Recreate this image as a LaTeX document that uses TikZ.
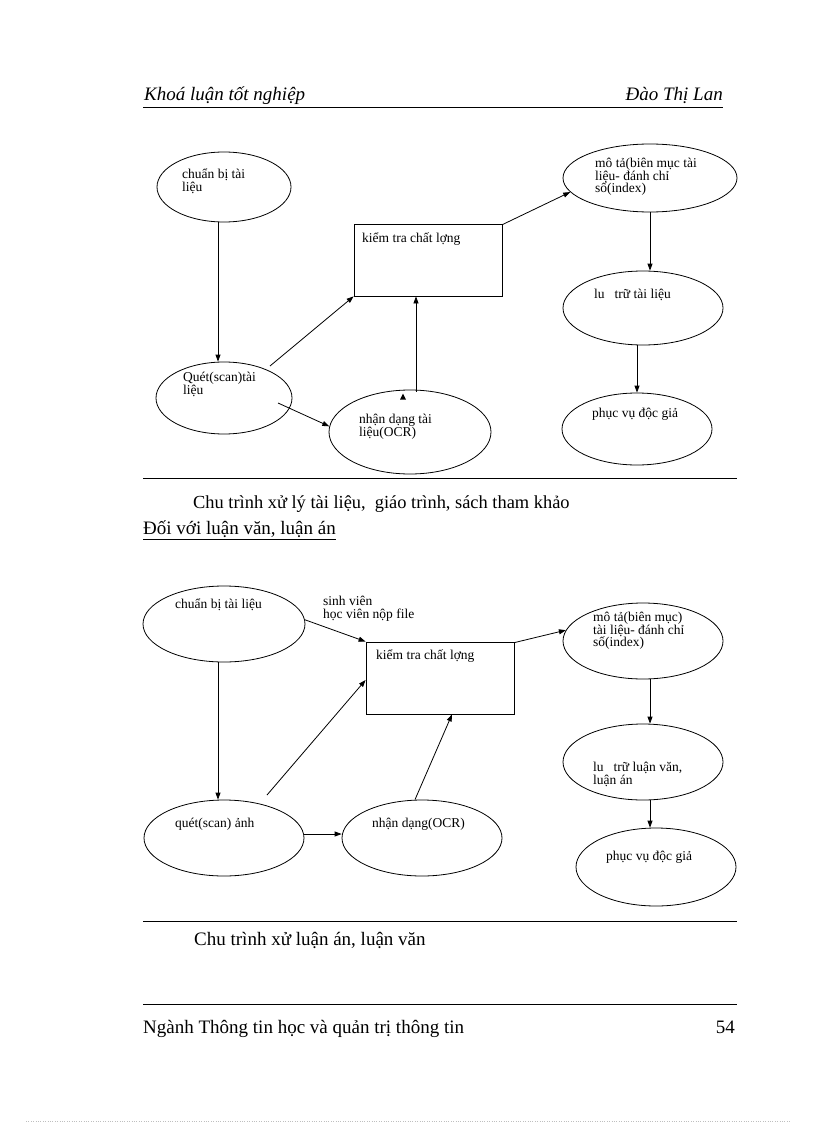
\documentclass[tikz,border=0pt]{standalone}
\usepackage{fontspec}
\setmainfont{Liberation Serif}
\usetikzlibrary{shapes.geometric,arrows.meta}
\newcommand\mytightlines{\lineskiplimit=-20pt\relax\lineskip=0pt\relax}
\begin{document}
\begin{tikzpicture}[x=1pt,y=-1pt,
  every node/.style={inner sep=0pt},
  ell/.style={draw,ellipse,line width=0.8pt},
  box/.style={draw,rectangle,line width=0.8pt},
  lbl/.style={anchor=north west,align=left,font=\fontsize{13.5}{12.5}\selectfont\mytightlines,execute at begin node={\rule{0pt}{13pt}}},
  big/.style={anchor=base west,font=\fontsize{19}{21}\selectfont},
  arr/.style={line width=0.8pt,-{Triangle[length=7pt,width=5pt]}},
  rulel/.style={line width=0.8pt}]
\useasboundingbox (0,0) rectangle (816,1123);
% header
\node[big,font=\fontsize{19}{21}\selectfont\itshape] (hl) at (144,101) {Khoá luận tốt nghiệp};
\node[big,anchor=base east,font=\fontsize{19}{21}\selectfont\itshape] (hr) at (723,101) {Đào Thị Lan};
\draw[rulel] (143,107) -- (723,107);
% ---------- diagram 1 ----------
\node[ell,minimum width=134pt,minimum height=70pt] (c1) at (224,187) {};
\node[box,minimum width=148pt,minimum height=72pt] (r1) at (428,260) {};
\node[ell,minimum width=174pt,minimum height=68pt] (m1) at (650,178) {};
\node[ell,minimum width=160pt,minimum height=74pt] (l1) at (643,308) {};
\node[ell,minimum width=150pt,minimum height=72pt] (p1) at (637,429) {};
\node[ell,minimum width=136pt,minimum height=72pt] (q1) at (224,398) {};
\node[ell,minimum width=162pt,minimum height=84pt] (n1) at (410,432) {};
\node[lbl] (tc1) at (182,169) {chuẩn bị tài\\liệu};
\node[lbl] (tr1) at (362,229) {kiểm tra chất lợng};
\node[lbl] (tm1) at (595,158) {mô tả(biên mục tài\\liệu- đánh chỉ\\số(index)};
\node[lbl] (tl1) at (594,285) {lu\hspace{10pt}trữ tài liệu};
\node[lbl] (tp1) at (592,404) {phục vụ độc giả};
\node[lbl] (tq1) at (183,372) {Quét(scan)tài\\liệu};
\node[lbl] (tn1) at (359,414) {nhận dạng tài\\liệu(OCR)};
\draw[arr] ([xshift=-6pt]c1.south) -- ([xshift=-6pt]q1.north);
\draw[arr] ([shift={(46,-32)}]q1.center) -- (r1.south west);
\draw[arr] ([shift={(54,5)}]q1.center) -- (n1.176);
\draw[arr] ([xshift=6pt,yshift=-2pt]n1.north) -- ([xshift=-12pt]r1.south);
\fill ([shift={(-7pt,-4pt)}]n1.north) -- ++(-3pt,-6pt) -- ++(6pt,0pt) -- cycle;
\draw[arr] ([yshift=-1pt]r1.north east) -- (m1.190);
\draw[arr] (m1.south) -- (m1.south |- l1.north);
\draw[arr] (l1.south -| p1.north) -- (p1.north);
\draw[rulel] (143,478) -- (737,478);
\node[big,font=\fontsize{18.4}{21}\selectfont] (cap1) at (193,508) {Chu trình xử lý tài liệu,\ \ giáo trình, sách tham khảo};
\node[big] (head2) at (143,534) {Đối với luận văn, luận án};
\draw[line width=0.8pt] ([yshift=-5pt]head2.base west) -- ([yshift=-5pt]head2.base east);
% ---------- diagram 2 ----------
\node[ell,minimum width=162pt,minimum height=76pt] (c2) at (224,624) {};
\node[box,minimum width=148pt,minimum height=72pt] (r2) at (440,678) {};
\node[ell,minimum width=160pt,minimum height=76pt] (m2) at (643,641) {};
\node[ell,minimum width=160pt,minimum height=76pt] (l2) at (643,762) {};
\node[ell,minimum width=160pt,minimum height=78pt] (p2) at (656,867) {};
\node[ell,minimum width=160pt,minimum height=76pt] (q2) at (224,838) {};
\node[ell,minimum width=160pt,minimum height=76pt] (n2) at (422,838) {};
\node[lbl] (tc2) at (175,595) {chuẩn bị tài liệu};
\node[lbl] (tsv) at (323,596) {sinh viên\\học viên nộp file};
\node[lbl] (tr2) at (376,646) {kiểm tra chất lợng};
\node[lbl] (tm2) at (593,612) {mô tả(biên mục)\\tài liệu- đánh chỉ\\số(index)};
\node[lbl] (tl2) at (593,762) {lu\hspace{10pt}trữ luận văn,\\luận án};
\node[lbl] (tp2) at (606,847) {phục vụ độc giả};
\node[lbl] (tq2) at (175,814) {quét(scan) ảnh};
\node[lbl] (tn2) at (372,814) {nhận dạng(OCR)};
\draw[arr] (c2.3) -- (r2.north west);
\draw[arr] ([xshift=-6pt]c2.south) -- ([xshift=-6pt]q2.north);
\draw[arr] ([shift={(43,-43)}]q2.center) -- ([yshift=-2pt]r2.west);
\draw[arr] ([yshift=4pt]q2.east) -- ([yshift=4pt]n2.west);
\draw[arr] ([xshift=-7pt]n2.north) -- ([xshift=12pt]r2.south);
\draw[arr] ([yshift=-1pt]r2.north east) -- (m2.172);
\draw[arr] ([xshift=7pt]m2.south) -- ([xshift=7pt]l2.north);
\draw[arr] ([xshift=7pt]l2.south) -- ([xshift=-6pt]p2.north);
\draw[rulel] (143,921) -- (737,921);
\node[big] (cap2) at (194,945) {Chu trình xử luận án, luận văn};
\draw[rulel] (143,1004) -- (737,1004);
\node[big] (foot) at (143,1033) {Ngành Thông tin học và quản trị thông tin};
\node[big,anchor=base east] (pg) at (735,1033) {54};
\draw[gray!50,dotted] (26,1121) -- (791,1121);
\end{tikzpicture}
\end{document}
